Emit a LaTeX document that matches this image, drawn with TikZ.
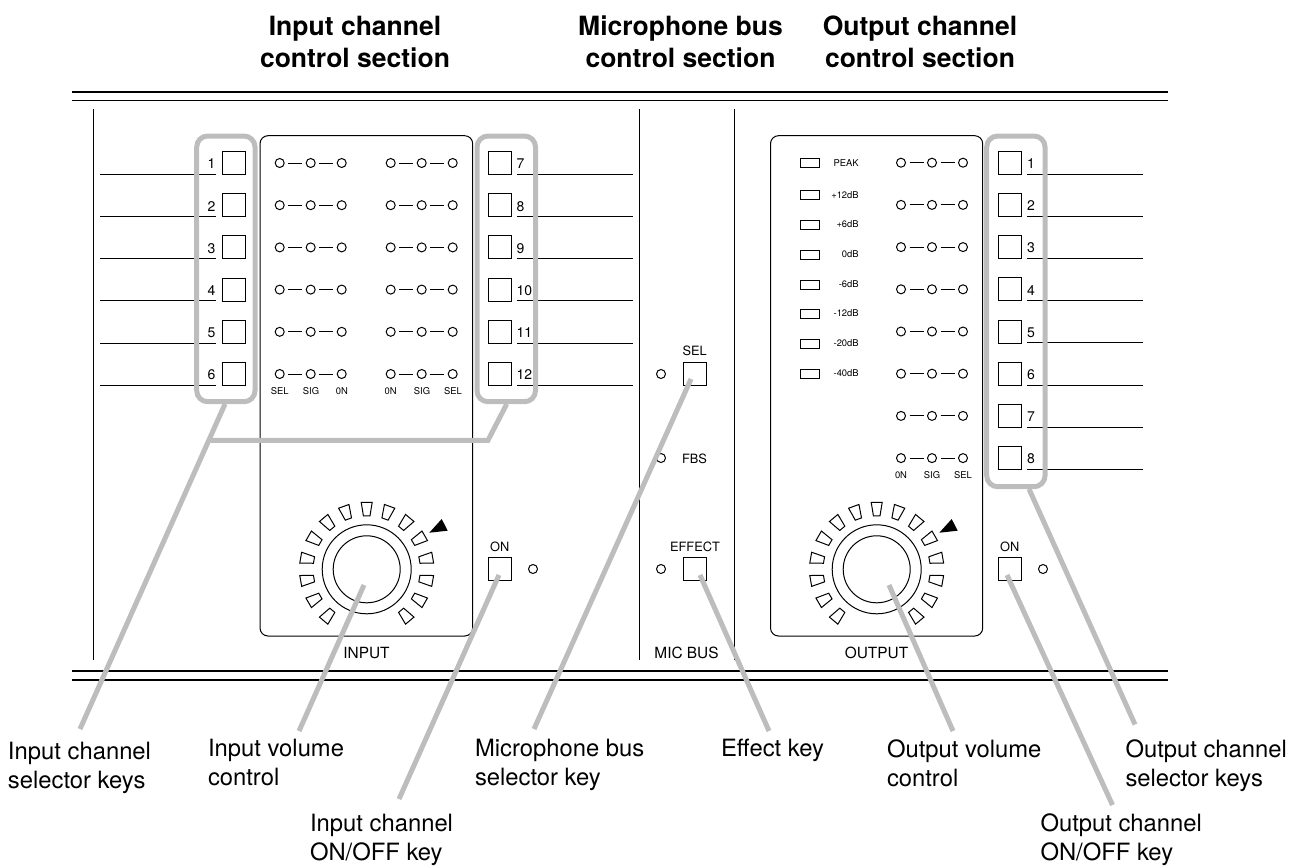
\documentclass[tikz,border=0pt]{standalone}
\usepackage{fontspec}
\setmainfont{TeX Gyre Heros}
\usetikzlibrary{calc}
\definecolor{callout}{HTML}{BDBDBD}
\newcommand{\fs}[2]{\fontsize{#1}{#2}\selectfont}
\tikzset{
  every node/.style={inner sep=0pt,outer sep=0pt},
  thinline/.style={line width=1pt,black},
  rail/.style={line width=1.6pt,black},
  keybox/.style={draw,line width=1pt,minimum size=23pt,fill=white},
  led/.style={draw,circle,line width=1pt,minimum size=9pt},
  meter/.style={draw,line width=1pt,minimum width=19pt,minimum height=9pt},
  panel/.style={draw,line width=1pt,rounded corners=8pt},
  keynum/.style={font=\fs{14}{16}},
  tiny/.style={font=\fs{9.4}{11}},
  small/.style={font=\fs{12.8}{15}},
  seclabel/.style={font=\fs{15.4}{18}},
  caption/.style={font=\fs{23.8}{29},align=left,anchor=north west},
  title/.style={font=\fs{26.5}{32}\bfseries,align=center},
  selbracket/.style={draw=callout,line width=5pt,rounded corners=11pt},
  callline/.style={draw=callout,line width=5pt},
}
\newcommand{\knob}[3]{%
  \node[draw,circle,line width=1pt,minimum size=89pt] (#3outer) at (#1,#2) {};
  \node[draw,circle,line width=1pt,minimum size=67pt] (#3) at (#1,#2) {};
  \foreach \a in {-140,-120,...,140}{
    \begin{scope}[shift={(#1,#2)},rotate=\a]
      \draw[line width=1pt] (-3.3,-53.5)--(3.3,-53.5)--(5.5,-67)--(-5.5,-67)--cycle;
    \end{scope}}
  \fill ($(#1,#2)+(62.6,-36.6)$)--($(#1,#2)+(75,-50.3)$)--($(#1,#2)+(81,-38.6)$)--cycle;
}
\newcommand{\ledrow}[3]{% x1 y name
  \node[led] (#3a) at (#1,#2) {};
  \node[led] (#3b) at (#1+31,#2) {};
  \node[led] (#3c) at (#1+62,#2) {};
  \draw[thinline,shorten <=4pt,shorten >=4pt] (#3a)--(#3b);
  \draw[thinline,shorten <=4pt,shorten >=4pt] (#3b)--(#3c);
}
\begin{document}
\begin{tikzpicture}[x=1pt,y=-1pt]
\useasboundingbox (0,0) rectangle (1292,867);
% rails
\coordinate (rt1a) at (72,92); \coordinate (rt1b) at (1168,92);
\coordinate (rt2a) at (72,100.5); \coordinate (rt2b) at (1168,100.5);
\coordinate (rb1a) at (72,671); \coordinate (rb1b) at (1168,671);
\coordinate (rb2a) at (72,680); \coordinate (rb2b) at (1168,680);
\draw[line width=2pt] (rt1a)--(rt1b);
\draw[rail] (rt2a)--(rt2b);
\draw[line width=1.2pt] (rb1a)--(rb1b);
\draw[line width=2pt] (rb2a)--(rb2b);
% dividers
\foreach \n/\x in {d1/93.7,d2/639,d3/734.7}{
  \coordinate (\n a) at (\x,109); \coordinate (\n b) at (\x,660);
  \draw[thinline] (\n a)--(\n b);
}
% panels
\draw[panel] (260,135.7) rectangle (472.7,636);
\draw[panel] (770.5,135.7) rectangle (982.7,636);
% input keys left
\foreach \i in {1,...,6}{
  \pgfmathsetmacro{\yy}{163+(\i-1)*42.2}
  \node[keybox] (ka\i) at (233.5,\yy) {};
  \node[keynum,anchor=east] (na\i) at (215.5,\yy+1) {\i};
  \coordinate (ula\i) at (100,\yy+11.3); \coordinate (ulb\i) at (216,\yy+11.3);
  \draw[thinline] (ula\i)--(ulb\i);
  \ledrow{279.7}{\yy}{la\i}
  \ledrow{390.7}{\yy}{lb\i}
}
% input keys right
\foreach \i [evaluate=\i as \lab using int(\i+6)] in {1,...,6}{
  \pgfmathsetmacro{\yy}{163+(\i-1)*42.2}
  \node[keybox] (kb\i) at (499.5,\yy) {};
  \node[keynum,anchor=west] (nb\i) at (516.5,\yy+1) {\lab};
  \coordinate (ulc\i) at (517,\yy+11.3); \coordinate (uld\i) at (633,\yy+11.3);
  \draw[thinline] (ulc\i)--(uld\i);
}
\foreach \x/\t in {279.7/SEL,311/SIG,342/0N,390.7/0N,422/SIG,453/SEL}
  \node[tiny] at (\x,391.5) {\t};
% output keys
\foreach \i in {1,...,8}{
  \pgfmathsetmacro{\yy}{162.7+(\i-1)*42.2}
  \node[keybox] (kc\i) at (1009.5,\yy) {};
  \node[keynum,anchor=west] (nc\i) at (1027,\yy+1) {\i};
  \coordinate (ule\i) at (1027,\yy+11.3); \coordinate (ulf\i) at (1143,\yy+11.3);
  \draw[thinline] (ule\i)--(ulf\i);
  \ledrow{901}{\yy}{lc\i}
}
\foreach \x/\t in {901/0N,932/SIG,963/SEL}
  \node[tiny] at (\x,475) {\t};
% meter
\foreach \i/\y/\t in {1/163.3/PEAK,2/195.3/+12dB,3/225/+6dB,4/255/0dB,5/285/-6dB,6/313.7/-12dB,7/343.7/-20dB,8/373.7/-40dB}{
  \node[meter] (m\i) at (810.2,\y) {};
  \node[tiny,anchor=east] (mt\i) at (858.7,\y-0.5) {\t};
}
% knobs
\knob{366.7}{569.3}{kin}
\knob{876.7}{569.3}{kout}
\node[seclabel] (inlab) at (366.5,653) {INPUT};
\node[seclabel] (outlab) at (876.5,653) {OUTPUT};
\node[seclabel] (miclab) at (686.5,653) {MIC BUS};
% on keys
\node[keybox] (onin) at (499.7,569) {};
\node[led] (onleda) at (533,569) {};
\node[small] (ontxta) at (499.7,547) {ON};
\node[keybox] (onout) at (1009.7,569) {};
\node[led] (onledb) at (1043,569) {};
\node[small] (ontxtb) at (1009.7,547) {ON};
% mic bus
\node[keybox] (sel) at (694.7,374) {};
\node[small] at (694.7,351) {SEL};
\node[led] (selled) at (661,374) {};
\node[led] (fbsled) at (661,458) {};
\node[small] at (694.5,459) {FBS};
\node[keybox] (eff) at (694.7,569) {};
\node[small] at (695,547) {EFFECT};
\node[led] (effled) at (661,569) {};
% brackets
\draw[selbracket] (196.7,136) rectangle (255,401.7);
\draw[selbracket] (477,136) rectangle (535.5,401.7);
\draw[selbracket] (986.7,136) rectangle (1045,486.7);
% captions
\node[title] (t1) at (355,42) {Input channel\\control section};
\node[title] (t2) at (680.5,42) {Microphone bus\\control section};
\node[title] (t3) at (920,42) {Output channel\\control section};
\node[caption] (c1) at (8,741.8) {Input channel\\selector keys};
\node[caption] (c2) at (208,739.5) {Input volume\\control};
\node[caption] (c3) at (310,814) {Input channel\\ON/OFF key};
\node[caption] (c4) at (475,739.5) {Microphone bus\\selector key};
\node[caption] (c5) at (721,739.5) {Effect key};
\node[caption] (c6) at (887,739.5) {Output volume\\control};
\node[caption] (c7) at (1125.5,739.5) {Output channel\\selector keys};
\node[caption] (c8) at (1040.5,814) {Output channel\\ON/OFF key};
% callouts
\coordinate (j1) at (210.7,440.3);
\coordinate (b1) at (225,404);
\coordinate (b2) at (506.7,404);
\coordinate (j2) at (488,440.3);
\coordinate (e1) at (80,729);
\draw[callline] (b1)--(e1);
\draw[callline,line join=miter] (j1)--(j2)--(b2);
\coordinate (s2) at (364,585); \coordinate (e2) at (299,731);
\draw[callline] (s2)--(e2);
\coordinate (s3) at (499,575); \coordinate (e3) at (399,799);
\draw[callline] (s3)--(e3);
\coordinate (s4) at (691,379); \coordinate (e4) at (534,729);
\draw[callline] (s4)--(e4);
\coordinate (s5) at (700,575); \coordinate (e5) at (769,731);
\draw[callline] (s5)--(e5);
\coordinate (s6) at (889,585); \coordinate (e6) at (953,731);
\draw[callline] (s6)--(e6);
\coordinate (s7) at (1007,575); \coordinate (e7) at (1112.5,805);
\draw[callline] (s7)--(e7);
\coordinate (s8) at (1029,489); \coordinate (e8) at (1135,724.5);
\draw[callline] (s8)--(e8);
\end{tikzpicture}
\end{document}
